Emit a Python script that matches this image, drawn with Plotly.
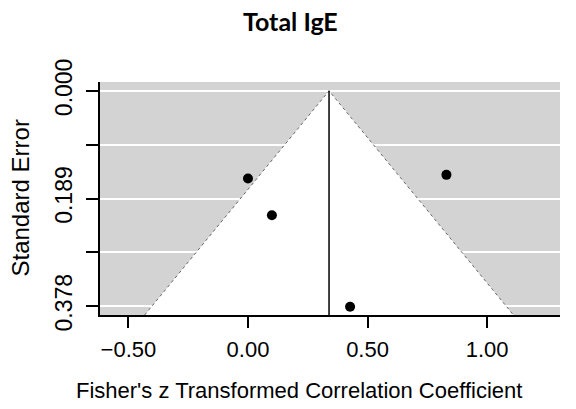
import plotly.graph_objects as go

# Data (Fisher's z estimates and standard errors)
study_z = [0.00, 0.10, 0.83, 0.427]
study_se = [0.154, 0.2185, 0.1475, 0.379]
pooled_z = 0.339
y_tick_vals = [0.0, 0.0945, 0.189, 0.2835, 0.378]
y_tick_text = ["0.000", "", "0.189", "", "0.378"]
x_tick_vals = [-0.5, 0.0, 0.5, 1.0]
x_tick_text = ["\u22120.50", "0.00", "0.50", "1.00"]

x_range = [-0.619, 1.305]
y_range = [0.3935, -0.0155]   # reversed (0 at top)
se_max = y_range[0]
crit = 1.96

font_main = "Liberation Sans, Arial, Helvetica, sans-serif"

fig = go.Figure()

# white funnel (pseudo confidence region)
fx = [pooled_z - crit * se_max, pooled_z, pooled_z + crit * se_max]
fy = [se_max, 0.0, se_max]
fig.add_trace(go.Scatter(x=fx, y=fy, mode="lines", fill="toself",
                         fillcolor="white", line=dict(color="#666666", width=1, dash="dot"),
                         hoverinfo="skip", showlegend=False))

# vertical line at the pooled estimate
fig.add_trace(go.Scatter(x=[pooled_z, pooled_z], y=[0.0, se_max], mode="lines",
                         line=dict(color="black", width=1.5), showlegend=False))

# study points
fig.add_trace(go.Scatter(x=study_z, y=study_se, mode="markers",
                         marker=dict(color="black", size=10), showlegend=False))

fig.update_layout(
    width=576, height=409,
    margin=dict(l=100, r=16, t=82, b=94),
    paper_bgcolor="white", plot_bgcolor="#D3D3D3",
    font=dict(family=font_main, color="black"),
    showlegend=False,
)

fig.update_xaxes(range=x_range, tickvals=x_tick_vals, ticktext=x_tick_text,
                 showgrid=False, zeroline=False, showline=True, linecolor="black",
                 linewidth=1.5, ticks="outside", ticklen=11, tickwidth=1.5,
                 tickcolor="black", tickfont=dict(size=22, family=font_main),
                 ticklabelstandoff=3)

fig.update_yaxes(range=y_range, tickvals=y_tick_vals, ticktext=y_tick_text,
                 showgrid=True, gridcolor="white", gridwidth=2, zeroline=False,
                 showline=True, linecolor="black", linewidth=1.5,
                 ticks="outside", ticklen=12, tickwidth=1.5, tickcolor="black",
                 tickangle=-90, tickfont=dict(size=23, family=font_main),
                 ticklabelstandoff=5)

fig.add_annotation(text="Fisher's z Transformed Correlation Coefficient",
                   xref="paper", yref="paper", x=0.4326, y=0, yanchor="middle",
                   yshift=-75, showarrow=False,
                   font=dict(size=22, family=font_main, color="black"))
fig.add_annotation(text="Standard Error", xref="paper", yref="paper",
                   x=0, y=0.5, xanchor="center", yanchor="middle", xshift=-80,
                   textangle=-90, showarrow=False,
                   font=dict(size=24, family=font_main, color="black"))
fig.add_annotation(text="<b>Total IgE</b>", xref="paper", yref="paper",
                   x=0.415, y=1, yanchor="middle", yshift=61, showarrow=False,
                   font=dict(size=25, family="Lato, Open Sans, sans-serif", color="black"))

fig.write_html("out.html")
